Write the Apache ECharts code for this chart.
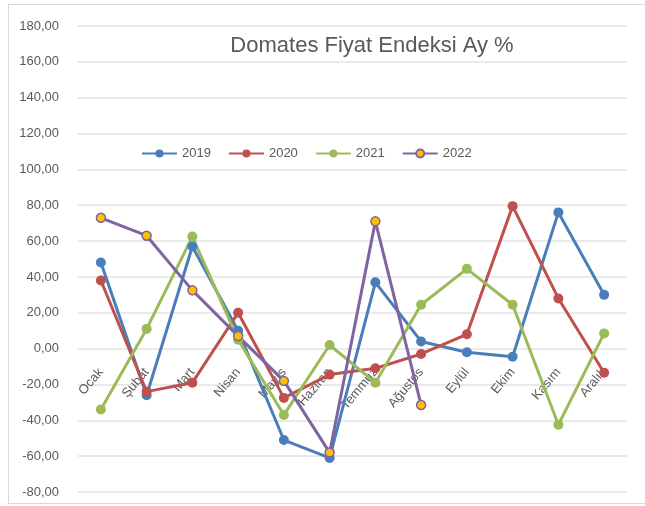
<!DOCTYPE html>
<html>
<head>
<meta charset="utf-8">
<script src="https://cdn.jsdelivr.net/npm/echarts@6/dist/echarts.min.js"></script>
<style>
  html, body { margin: 0; padding: 0; background: #fff; }
  #frame { position: absolute; left: 8px; top: 4px; width: 650px; height: 498px; border: 1px solid #d9d9d9; }
  #chart { position: absolute; left: 0; top: 0; width: 645px; height: 506px; }
</style>
</head>
<body>
<div id="frame"></div>
<div id="chart"></div>
<script>
var MONTHS = ["Ocak", "Şubat", "Mart", "Nisan", "Mayıs", "Haziran", "Temmuz",
              "Ağustos", "Eylül", "Ekim", "Kasım", "Aralık"];
var Y2019 = [48, -26, 57, 10, -51, -61, 37, 4, -2, -4.5, 76, 30];
var Y2020 = [38, -24, -19, 20, -27.5, -14.5, -11, -3, 8, 79.5, 28, -13.5];
var Y2021 = [-34, 11, 62.5, 5, -37, 2, -19, 24.5, 44.5, 24.5, -42.5, 8.5];
var Y2022 = [73, 63, 32.5, 7, -18, -58, 71, -31.5, null, null, null, null];

var FONT = "'Liberation Sans', sans-serif";
var TEXT = "#595959";

function lineSeries(name, data, color, symbolFill) {
  return {
    name: name, type: "line", data: data, z: 3,
    symbol: "circle", symbolSize: symbolFill ? 9 : 10,
    lineStyle: { color: color, width: 3 },
    itemStyle: { color: symbolFill || color, borderColor: color, borderWidth: symbolFill ? 1.5 : 0 }
  };
}

var chart = echarts.init(document.getElementById("chart"));
chart.setOption({
  animation: false,
  title: {
    text: "Domates Fiyat Endeksi Ay %", left: 367, top: 30, textAlign: "center",
    textStyle: { color: TEXT, fontSize: 22, fontWeight: "normal", fontFamily: FONT }
  },
  legend: {
    left: 136, top: 142, itemWidth: 35, itemHeight: 10, itemGap: 17,
    textStyle: { color: TEXT, fontSize: 13, fontFamily: FONT },
    data: ["2019", "2020", "2021", "2022"]
  },
  grid: { left: 78, right: 18, top: 26, height: 466, outerBoundsMode: "none" },
  xAxis: {
    type: "category", data: MONTHS, boundaryGap: true, offset: -143, z: 1,
    axisLine: { show: false, onZero: false },
    axisTick: { show: false },
    axisLabel: { rotate: 50, color: TEXT, fontSize: 13, fontFamily: FONT, margin: 21 }
  },
  yAxis: {
    type: "value", min: -80, max: 180, interval: 20,
    axisLine: { show: false }, axisTick: { show: false },
    axisLabel: {
      color: TEXT, fontSize: 13, fontFamily: FONT, margin: 19,
      formatter: function(v) { return v.toFixed(2).replace(".", ","); }
    },
    splitLine: { lineStyle: { color: "#e3e3e3", width: 1.5 } }
  },
  series: [
    lineSeries("2019", Y2019, "#4a7ebb"),
    lineSeries("2020", Y2020, "#c0504d"),
    lineSeries("2021", Y2021, "#9bbb59"),
    lineSeries("2022", Y2022, "#8064a2", "#ffc000")
  ]
});
</script>
</body>
</html>
